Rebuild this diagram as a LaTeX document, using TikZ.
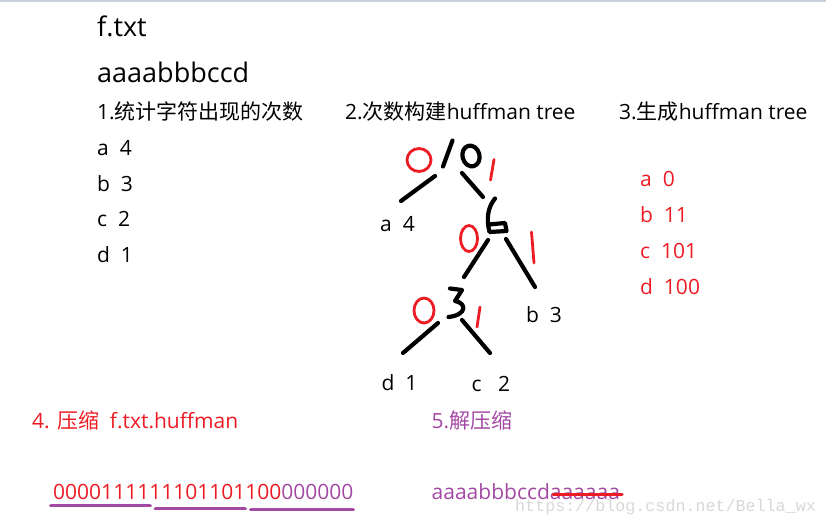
\documentclass[tikz,border=0pt]{standalone}
\usepackage{fontspec}
\setmainfont{Open Sans}
\setmonofont{Liberation Mono}
\newfontfamily\cjk{Noto Sans CJK SC}
\definecolor{penred}{RGB}{237,28,36}
\definecolor{penpurple}{RGB}{163,73,164}
\definecolor{markgray}{RGB}{216,216,216}
\definecolor{topbar}{RGB}{200,208,222}
\tikzset{
    txt/.style={anchor=base west, inner sep=0pt, font=\fontsize{21}{25}\selectfont},
    bigtxt/.style={txt, font=\fontsize{27}{32}\selectfont},
    ink/.style={black, line width=4.2pt, line cap=round, line join=round},
    pen/.style={penred, line width=2.8pt, line cap=round, line join=round},
    uline/.style={penpurple, line width=3.8pt, line cap=round},
}
\begin{document}
\begin{tikzpicture}[x=1pt, y=-1pt]
        \useasboundingbox (0,0) rectangle (826,525);
        \fill [topbar] (0,0) rectangle (826,1.5);
        % input file and counts
        \node [bigtxt] (file) at (97,36) {f.txt};
        \node [bigtxt] (data) at (97,82) {aaaabbbccd};
        \node [txt] (stepone) at (97,119) {1.{\cjk 统计字符出现的次数}};
        \node [txt] (ca) at (97,155) {a~~4};
        \node [txt] (cb) at (97,191) {b~~3};
        \node [txt] (cc) at (97,226.5) {c~~2};
        \node [txt] (cd) at (97,262) {d~~1};
        % tree
        \node [txt] (steptwo) at (345,119) {2.{\cjk 次数构建}huffman tree};
        \node [txt] (la) at (380,231.5) {a~~4};
        \node [txt] (lb) at (526,322.5) {b~~3};
        \node [txt] (ld) at (381.5,390) {d~~1};
        \node [txt] (lc) at (471.5,391.5) {c~~~2};
        \coordinate (rootl) at (435,176);
        \coordinate (rootr) at (462,173);
        \coordinate (sixl) at (488,240);
        \coordinate (sixr) at (506,239);
        \coordinate (threel) at (438,323);
        \coordinate (threer) at (462,320);
        \coordinate (ea) at (401,201);
        \coordinate (esix) at (483,197);
        \coordinate (ethree) at (464,277);
        \coordinate (eb) at (535,287);
        \coordinate (ed) at (403,353);
        \coordinate (ec) at (490,353);
        \draw [ink] (rootl) -- (ea);
        \draw [ink] (rootr) -- (esix);
        \draw [ink] (sixl) -- (ethree);
        \draw [ink] (sixr) -- (eb);
        \draw [ink] (threel) -- (ed);
        \draw [ink] (threer) -- (ec);
        % handwritten weights
        \draw [ink] (452.5,140.5) .. controls (447,154) .. (443,166.5);
        \draw [ink, rotate around={15:(471,156)}] (471,156) ellipse [x radius=8.5, y radius=10.5];
        \draw [ink] (495,198.5) .. controls (488,207) and (486,218) .. (489.5,232) -- (506.5,231) -- (505,223) -- (489,224.5);
        \draw [ink] (450,288.5) -- (462,290) -- (455,301) .. controls (467,303) and (467,315) .. (448.5,317);
        % handwritten bits
        \draw [pen] (419,160) ellipse [x radius=12, y radius=11.5];
        \draw [pen] (494,159.5) -- (490.5,180);
        \draw [pen] (469,238.5) ellipse [x radius=8.5, y radius=13];
        \draw [pen] (531.5,232) -- (534,263);
        \draw [pen] (424,310.5) ellipse [x radius=10, y radius=12.5];
        \draw [pen] (480,307) -- (477,327);
        % codes
        \node [txt] (stepthree) at (619,119) {3.{\cjk 生成}huffman tree};
        \node [txt, penred] (coa) at (640,186.5) {a~~0};
        \node [txt, penred] (cob) at (640,222.5) {b~~11};
        \node [txt, penred] (coc) at (640,258.5) {c~~101};
        \node [txt, penred] (cod) at (640,294) {d~~100};
        % compress
        \node [txt, penred] (stepfour) at (32,428.5) {4. {\cjk 压缩}~~f.txt.huffman};
        \node [txt] (bits) at (53,499.5) {\textcolor{penred}{0000111111101101100}\textcolor{penpurple}{000000}};
        \coordinate (ua) at (51,505.5);
        \coordinate (ub) at (150,505.5);
        \coordinate (uc) at (155.5,508.5);
        \coordinate (ud) at (245,508.5);
        \coordinate (ue) at (251,509.5);
        \coordinate (uf) at (353,509.5);
        \draw [uline] (ua) -- (ub);
        \draw [uline] (uc) -- (ud);
        \draw [uline] (ue) -- (uf);
        % decompress
        \node [txt, penpurple] (stepfive) at (431.5,428.5) {5.{\cjk 解压缩}};
        \node [txt, penpurple] (back) at (431.5,499) {aaaabbbccdaaaaaa};
        \node [anchor=base west, inner sep=0pt, markgray, font=\ttfamily\fontsize{16.7}{20}\selectfont] (mark) at (515,511.5) {https://blog.csdn.net/Bella\_wx};
        \coordinate (sa) at (553,494.5);
        \coordinate (sb) at (622,494.5);
        \draw [penred, line width=3pt, line cap=round] (sa) -- (sb);
\end{tikzpicture}
\end{document}
